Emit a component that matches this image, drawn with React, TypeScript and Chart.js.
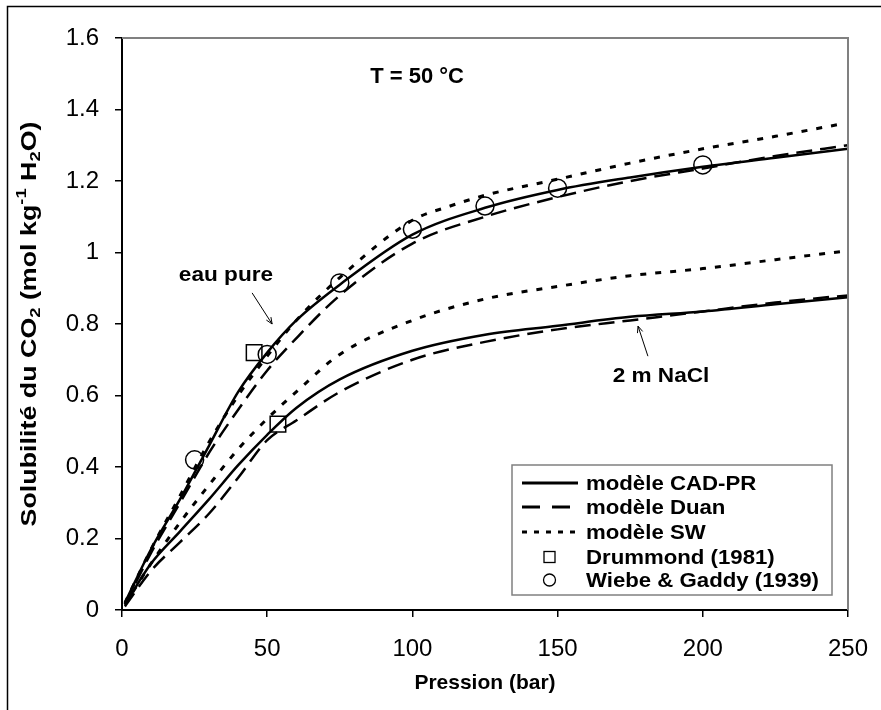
import React, { useEffect, useRef } from "react";
import { Chart, registerables } from "chart.js";

Chart.register(...registerables);

// ---------- data ----------
const modelP = [1, 10, 20, 30, 40, 50, 60, 75, 100, 125, 150, 175, 200, 225, 250];

// eau pure
const cadPure = [0.02, 0.17, 0.31, 0.46, 0.61, 0.72, 0.81, 0.91, 1.05, 1.125, 1.175, 1.21, 1.24, 1.265, 1.29];
const duanPure = [0.015, 0.16, 0.3, 0.44, 0.56, 0.67, 0.76, 0.88, 1.025, 1.1, 1.155, 1.2, 1.235, 1.27, 1.3];
const swPureP = [1, 10, 20, 30, 40, 50, 60, 75, 100, 113, 125, 150, 175, 200, 225, 248];
const swPure = [0.02, 0.17, 0.32, 0.47, 0.6, 0.71, 0.81, 0.93, 1.09, 1.13, 1.16, 1.205, 1.25, 1.29, 1.325, 1.36];

// 2 m NaCl
const cadNaCl = [0.015, 0.13, 0.22, 0.31, 0.405, 0.49, 0.565, 0.645, 0.725, 0.77, 0.795, 0.82, 0.835, 0.855, 0.875];
const duanNaClP = [1, 10, 20, 30, 40, 50, 60, 75, 100, 125, 150, 175, 200, 225, 250, 258];
const duanNaCl = [0.01, 0.11, 0.19, 0.27, 0.37, 0.475, 0.53, 0.61, 0.7, 0.75, 0.785, 0.81, 0.835, 0.86, 0.88, 0.885];
const swNaCl = [0.015, 0.13, 0.245, 0.35, 0.45, 0.535, 0.61, 0.715, 0.81, 0.87, 0.905, 0.935, 0.955, 0.98, 1.005];

// experimental
const drummondP = [45.5, 53.7];
const drummondS = [0.72, 0.52];
const wiebeP = [25, 50, 75, 100, 125, 150, 200];
const wiebeS = [0.42, 0.715, 0.915, 1.065, 1.13, 1.18, 1.245];

// axes
const xTicks = [0, 50, 100, 150, 200, 250];
const yTicks = [0, 0.2, 0.4, 0.6, 0.8, 1, 1.2, 1.4, 1.6];
const xTitle = "Pression (bar)";
const chartTitle = "T = 50 °C";
const legendLabels = ["modèle CAD-PR", "modèle Duan", "modèle SW", "Drummond (1981)", "Wiebe & Gaddy (1939)"];
const noteLabels = ["eau pure", "2 m NaCl"];
const noteAt = [
  [35.8, 0.935],
  [185.6, 0.652],
];
const arrowFrom = [
  [44.8, 0.887],
  [181.1, 0.71],
];
const arrowTo = [
  [51.7, 0.8],
  [177.7, 0.794],
];
const titleAt = [101.6, 1.49];

const FONT = "'Liberation Sans', Arial, Helvetica, sans-serif";

const pts = (xs: number[], ys: number[]) => xs.map((x, i) => ({ x, y: ys[i] }));

const SOLID: number[] = [];
const DASH = [16, 8];
const DOT = [6, 9];

function lineDs(label: string, data: any[], dash: number[], width: number) {
  return {
    label,
    data,
    showLine: true,
    borderColor: "#000",
    backgroundColor: "#000",
    borderWidth: width,
    borderDash: dash,
    pointRadius: 0,
    pointHoverRadius: 0,
    cubicInterpolationMode: "monotone",
    clip: false,
    order: 2,
  };
}

// draw text horizontally stretched by sx; align: 'left' | 'center'
function textSx(ctx: CanvasRenderingContext2D, t: string, x: number, y: number, sx: number, align: string) {
  ctx.save();
  ctx.translate(x, y);
  ctx.scale(sx, 1);
  ctx.textAlign = align as CanvasTextAlign;
  ctx.textBaseline = "middle";
  ctx.fillText(t, 0, 0);
  ctx.restore();
}

function drawRich(ctx: CanvasRenderingContext2D, segs: { t: string; k: number }[], cx: number, cy: number, size: number, sx: number) {
  // k: 0 normal, 1 subscript, 2 superscript
  const small = Math.round(size * 0.66);
  let total = 0;
  const widths = segs.map((s) => {
    ctx.font = `bold ${s.k ? small : size}px ${FONT}`;
    const w = ctx.measureText(s.t).width * sx;
    total += w;
    return w;
  });
  let x = cx - total / 2;
  segs.forEach((s, i) => {
    ctx.font = `bold ${s.k ? small : size}px ${FONT}`;
    const dy = s.k === 1 ? size * 0.28 : s.k === 2 ? -size * 0.35 : 0;
    textSx(ctx, s.t, x, cy + dy, sx, "left");
    x += widths[i];
  });
}

const decorPlugin = {
  id: "decor",
  afterDatasetsDraw(chart: any) {
    const { ctx, chartArea, scales } = chart;
    const xs = scales.x;
    const ys = scales.y;
    const px = (v: number) => xs.getPixelForValue(v);
    const py = (v: number) => ys.getPixelForValue(v);
    ctx.save();

    // outer frame
    ctx.strokeStyle = "#000";
    ctx.lineWidth = 1.5;
    ctx.beginPath();
    ctx.moveTo(7.5, 720);
    ctx.lineTo(7.5, 6.5);
    ctx.lineTo(900, 6.5);
    ctx.stroke();

    // gray top / right border of plot area
    ctx.strokeStyle = "#808080";
    ctx.lineWidth = 2;
    ctx.beginPath();
    ctx.moveTo(chartArea.left, chartArea.top);
    ctx.lineTo(chartArea.right, chartArea.top);
    ctx.lineTo(chartArea.right, chartArea.bottom);
    ctx.stroke();

    ctx.fillStyle = "#000";
    // chart title
    ctx.font = `bold 22px ${FONT}`;
    textSx(ctx, chartTitle, px(titleAt[0]), py(titleAt[1]), 1.0, "center");

    // notes + arrows
    ctx.font = `bold 20px ${FONT}`;
    noteLabels.forEach((t, i) => {
      ctx.fillStyle = "#000";
      textSx(ctx, t, px(noteAt[i][0]), py(noteAt[i][1]), 1.13, "center");
      const x1 = px(arrowFrom[i][0]);
      const y1 = py(arrowFrom[i][1]);
      const x2 = px(arrowTo[i][0]);
      const y2 = py(arrowTo[i][1]);
      ctx.strokeStyle = "#000";
      ctx.lineWidth = 1;
      ctx.beginPath();
      ctx.moveTo(x1, y1);
      ctx.lineTo(x2, y2);
      const a = Math.atan2(y2 - y1, x2 - x1);
      const h = 7;
      ctx.moveTo(x2, y2);
      ctx.lineTo(x2 - h * Math.cos(a - 0.4), y2 - h * Math.sin(a - 0.4));
      ctx.moveTo(x2, y2);
      ctx.lineTo(x2 - h * Math.cos(a + 0.4), y2 - h * Math.sin(a + 0.4));
      ctx.stroke();
    });

    // x axis title
    ctx.font = `bold 21px ${FONT}`;
    textSx(ctx, xTitle, (chartArea.left + chartArea.right) / 2, 683, 1.0, "center");

    // y axis title (rotated, with sub/superscripts)
    ctx.save();
    ctx.translate(30, 324);
    ctx.rotate(-Math.PI / 2);
    drawRich(
      ctx,
      [
        { t: "Solubilité du CO", k: 0 },
        { t: "2", k: 1 },
        { t: " (mol kg", k: 0 },
        { t: "-1", k: 2 },
        { t: " H", k: 0 },
        { t: "2", k: 1 },
        { t: "O)", k: 0 },
      ],
      0,
      0,
      22,
      1.22
    );
    ctx.restore();

    // legend
    const bx = 512, by = 465, bw = 320, bh = 130;
    ctx.fillStyle = "#fff";
    ctx.fillRect(bx, by, bw, bh);
    ctx.strokeStyle = "#808080";
    ctx.lineWidth = 1.5;
    ctx.strokeRect(bx, by, bw, bh);
    const rowY = [483, 507, 532, 557, 580];
    ctx.fillStyle = "#000";
    ctx.font = `bold 20px ${FONT}`;
    legendLabels.forEach((t, i) => {
      const y = rowY[i];
      ctx.strokeStyle = "#000";
      if (i < 3) {
        ctx.lineWidth = 3;
        ctx.setLineDash(i === 1 ? [18, 12] : i === 2 ? [5, 7] : []);
        ctx.beginPath();
        ctx.moveTo(522, y);
        ctx.lineTo(578, y);
        ctx.stroke();
        ctx.setLineDash([]);
      } else if (i === 3) {
        ctx.lineWidth = 1.3;
        ctx.strokeRect(544, y - 5.5, 11, 11);
      } else {
        ctx.lineWidth = 1.3;
        ctx.beginPath();
        ctx.arc(549.5, y, 6, 0, Math.PI * 2);
        ctx.stroke();
      }
      textSx(ctx, t, 586, y + 1, 1.11, "left");
    });
    ctx.restore();
  },
};

export default function App() {
  const ref = useRef<HTMLCanvasElement | null>(null);
  useEffect(() => {
    if (!ref.current) return;
    const chart = new Chart(ref.current, {
      type: "scatter",
      data: {
        datasets: [
          lineDs("CAD-PR eau pure", pts(modelP, cadPure), SOLID, 2.5),
          lineDs("Duan eau pure", pts(modelP, duanPure), DASH, 2.5),
          lineDs("SW eau pure", pts(swPureP, swPure), DOT, 3),
          lineDs("CAD-PR 2 m NaCl", pts(modelP, cadNaCl), SOLID, 2.5),
          lineDs("Duan 2 m NaCl", pts(duanNaClP, duanNaCl), DASH, 2.5),
          lineDs("SW 2 m NaCl", pts(modelP, swNaCl), DOT, 3),
          {
            label: "Drummond (1981)",
            data: pts(drummondP, drummondS),
            showLine: false,
            pointStyle: "rect",
            pointRadius: 11,
            pointBorderWidth: 1.5,
            pointBorderColor: "#000",
            pointBackgroundColor: "rgba(0,0,0,0)",
            order: 1,
          },
          {
            label: "Wiebe & Gaddy (1939)",
            data: pts(wiebeP, wiebeS),
            showLine: false,
            pointStyle: "circle",
            pointRadius: 9,
            pointBorderWidth: 1.5,
            pointBorderColor: "#000",
            pointBackgroundColor: "rgba(0,0,0,0)",
            order: 1,
          },
        ] as any,
      },
      options: {
        animation: false,
        responsive: false,
        devicePixelRatio: 1,
        events: [],
        layout: { padding: { left: 0, top: 38, right: 33, bottom: 0 } },
        plugins: {
          legend: { display: false },
          tooltip: { enabled: false },
          title: { display: false },
        },
        scales: {
          x: {
            type: "linear",
            min: 0,
            max: 250,
            afterBuildTicks: (s: any) => {
              s.ticks = xTicks.map((v) => ({ value: v }));
            },
            afterFit: (s: any) => {
              s.height = 100;
              s.paddingRight = 0;
              s.paddingLeft = 0;
            },
            ticks: {
              color: "#000",
              font: { family: FONT, size: 24 },
              padding: 18,
              maxRotation: 0,
              callback: (v: any) => String(v),
            },
            grid: {
              drawOnChartArea: false,
              drawTicks: true,
              tickLength: 7,
              color: "#000",
              lineWidth: 1.5,
            },
            border: { display: true, color: "#000", width: 2 },
          },
          y: {
            type: "linear",
            min: 0,
            max: 1.6,
            afterBuildTicks: (s: any) => {
              s.ticks = yTicks.map((v) => ({ value: v }));
            },
            afterFit: (s: any) => {
              s.width = 122;
            },
            ticks: {
              color: "#000",
              font: { family: FONT, size: 24 },
              padding: 16,
              callback: (v: any) => String(Math.round(v * 10) / 10),
            },
            grid: {
              drawOnChartArea: false,
              drawTicks: true,
              tickLength: 7,
              color: "#000",
              lineWidth: 1.5,
            },
            border: { display: true, color: "#000", width: 2 },
          },
        },
      } as any,
      plugins: [decorPlugin],
    });
    return () => chart.destroy();
  }, []);

  return (
    <div style={{ position: "absolute", left: 0, top: 0, width: 881, height: 710, background: "#fff" }}>
      <canvas ref={ref} width={881} height={710} style={{ display: "block", width: 881, height: 710 }} />
    </div>
  );
}
